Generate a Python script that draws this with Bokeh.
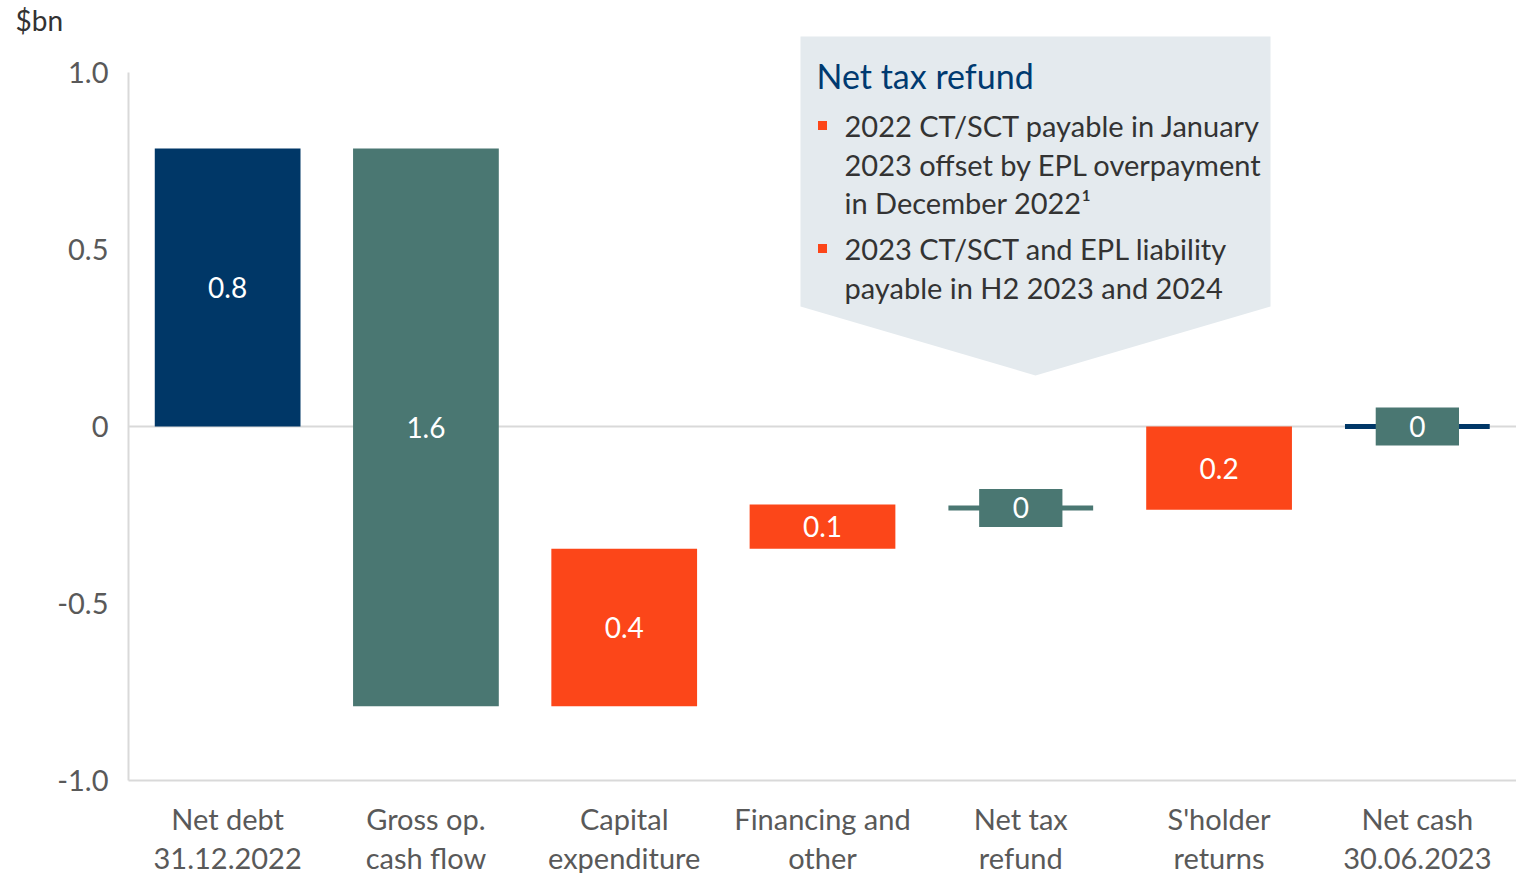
from bokeh.plotting import figure
from bokeh.models import Range1d, FixedTicker, Span, ColumnDataSource
from bokeh.core.properties import value
from bokeh.embed import file_html
from bokeh.resources import INLINE

# ---------------- data ----------------
categories = ["Net debt\n31.12.2022", "Gross op.\ncash flow", "Capital\nexpenditure",
              "Financing and\nother", "Net tax\nrefund", "S'holder\nreturns", "Net cash\n30.06.2023"]
level_before = [0.0, 0.785, -0.79, -0.345, -0.23, -0.235, 0.0]
level_after = [0.785, -0.79, -0.345, -0.22, -0.23, 0.0, 0.0]
value_labels = ["0.8", "1.6", "0.4", "0.1", "0", "0.2", "0"]
bar_colors = ["#003767", "#4a7772", "#fc4619", "#fc4619", "#4a7772", "#fc4619", "#4a7772"]
line_colors = ["#003767", "#4a7772", "#fc4619", "#fc4619", "#4a7772", "#fc4619", "#003767"]
y_ticks = [-1.0, -0.5, 0.0, 0.5, 1.0]
y_tick_labels = ["-1.0", "-0.5", "0", "0.5", "1.0"]

callout_title = "Net tax refund"
callout_lines = ["2022 CT/SCT payable in January",
                 "2023 offset by EPL overpayment",
                 "in December 2022\u00b9",
                 "2023 CT/SCT and EPL liability",
                 "payable in H2 2023 and 2024"]

FONT = "Lato"
NAVY = "#003a70"
ORANGE = "#fc4619"

# ---------------- layout ----------------
LEFT, TOP = 128, 36
FW, FH = 1388, 744
PPU_Y = 354.0
Y_START = -1.0
Y_END = Y_START + FH / PPU_Y
N = len(categories)
PPU_X = FW / N
BOTTOM_PX = TOP + FH


def dx(px):  # page pixel -> data x
    return (px - LEFT) / PPU_X - 0.5


def dy(py):  # page pixel -> data y
    return Y_START + (BOTTOM_PX - py) / PPU_Y


p = figure(frame_width=FW, frame_height=FH, output_backend="svg", toolbar_location=None,
           x_range=Range1d(-0.5, N - 0.5), y_range=Range1d(Y_START, Y_END),
           min_border_left=LEFT, min_border_top=0, min_border_right=0, min_border_bottom=92,
           title="$bn")
p.outline_line_color = None
p.xgrid.visible = False
p.ygrid.visible = False
p.background_fill_color = "white"
p.border_fill_color = "white"

p.title.align = "left"
p.title.offset = 15 - LEFT
p.title.text_font = FONT
p.title.text_font_size = "28px"
p.title.text_font_style = "normal"
p.title.text_color = "#333333"
p.title.standoff = 0

# zero line
p.add_layout(Span(location=0, dimension="width", line_color="#d9d9d9", line_width=2, level="underlay"))

# bars
xs = list(range(N))
bar_idx = [i for i in xs if level_before[i] != level_after[i]]
flat_idx = [i for i in xs if level_before[i] == level_after[i]]
bars = ColumnDataSource(dict(
    x=[xs[i] for i in bar_idx],
    bottom=[min(level_before[i], level_after[i]) for i in bar_idx],
    top=[max(level_before[i], level_after[i]) for i in bar_idx],
    color=[bar_colors[i] for i in bar_idx],
    mid=[(level_before[i] + level_after[i]) / 2 for i in bar_idx],
    lab=[value_labels[i] for i in bar_idx],
))
p.vbar(x="x", bottom="bottom", top="top", width=0.735, fill_color="color", line_color=None, source=bars)
p.text(x="x", y="mid", text="lab", source=bars, text_color="white", text_font=value(FONT),
       text_font_size="28px", text_align="center", text_baseline="middle")

# zero-change steps: line + small box
flats = ColumnDataSource(dict(
    x=[xs[i] for i in flat_idx],
    x0=[xs[i] - 0.365 for i in flat_idx],
    x1=[xs[i] + 0.365 for i in flat_idx],
    y=[level_after[i] for i in flat_idx],
    lc=[line_colors[i] for i in flat_idx],
    fc=[bar_colors[i] for i in flat_idx],
    lab=[value_labels[i] for i in flat_idx],
))
p.segment(x0="x0", x1="x1", y0="y", y1="y", line_color="lc", line_width=5, source=flats)
p.rect(x="x", y="y", width=0.42, height=38, height_units="screen", fill_color="fc",
       line_color=None, source=flats)
p.text(x="x", y="y", text="lab", source=flats, text_color="white", text_font=value(FONT),
       text_font_size="28px", text_align="center", text_baseline="middle")

# callout
poly_px = [(800, 35), (1270, 35), (1270, 306), (1035, 375), (800, 306)]
p.patch([dx(a) for a, b in poly_px], [dy(b) for a, b in poly_px], fill_color="#e4eaee", line_color=None)
p.text(x=[dx(816)], y=[dy(75)], text=[callout_title], text_color=NAVY, text_font=value(FONT),
       text_font_size="34px", text_align="left", text_baseline="middle")
line_y_px = [125, 164, 202, 248, 287]
p.text(x=[dx(844)] * len(callout_lines), y=[dy(v) for v in line_y_px], text=callout_lines,
       text_color="#333333", text_font=value(FONT), text_font_size="29px",
       text_align="left", text_baseline="middle")
p.rect(x=[dx(822), dx(822)], y=[dy(125), dy(248)], width=9, height=9, width_units="screen",
       height_units="screen", fill_color=ORANGE, line_color=None)

# axes
p.xaxis.ticker = FixedTicker(ticks=xs)
p.xaxis.major_label_overrides = {i: c for i, c in zip(xs, categories)}
p.yaxis.ticker = FixedTicker(ticks=y_ticks)
p.yaxis.major_label_overrides = {t: s for t, s in zip(y_ticks, y_tick_labels)}
p.yaxis.bounds = (-1.0, 1.0)
for ax in (p.xaxis[0], p.yaxis[0]):
    ax.axis_line_color = "#d9d9d9"
    ax.axis_line_width = 2
    ax.major_tick_line_color = None
    ax.minor_tick_line_color = None
    ax.major_label_text_font = FONT
    ax.major_label_text_font_size = "29px"
    ax.major_label_text_color = "#595959"
p.xaxis.major_label_standoff = 14
p.xaxis.major_label_text_line_height = 1.12
p.yaxis.major_label_standoff = 14

open("out.html", "w").write(file_html(p, INLINE))
